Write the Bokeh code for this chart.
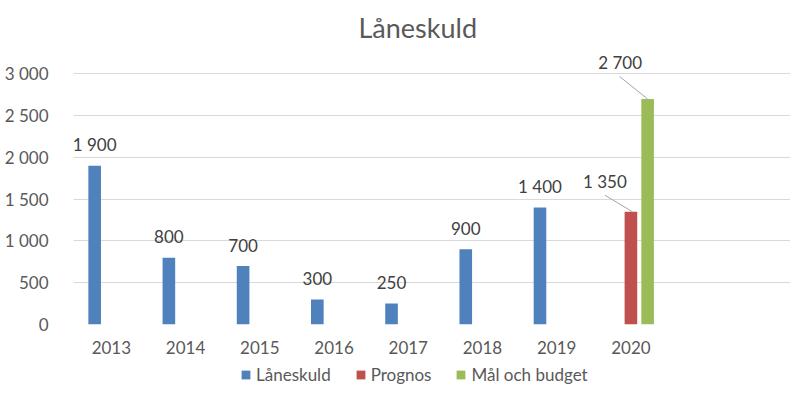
from bokeh.plotting import figure
from bokeh.layouts import column
from bokeh.models import Range1d, FixedTicker, Legend, LegendItem, ColumnDataSource
from bokeh.core.properties import value
from bokeh.embed import file_html
from bokeh.resources import INLINE

# ---- data ----
years = ["2013", "2014", "2015", "2016", "2017", "2018", "2019", "2020"]
laneskuld = [1900, 800, 700, 300, 250, 900, 1400, None]
prognos = [None, None, None, None, None, None, None, 1350]
mal_budget = [None, None, None, None, None, None, None, 2700]
series_names = ["Låneskuld", "Prognos", "Mål och budget"]
y_ticks = [0, 500, 1000, 1500, 2000, 2500, 3000]
y_tick_labels = ["0", "500", "1 000", "1 500", "2 000", "2 500", "3 000"]

# ---- styles ----
colors = ["#4F81BD", "#C0504D", "#9BBB59"]
offsets = [-0.225, 0.0, 0.225]
bar_w = 0.17
FONT = "Lato"
W, H1, H2 = 790, 361, 24
BL, BT, BB = 73, 50, 37
XR = (-0.51, 9.15)
YR = (0, 3280)

p = figure(width=W, height=H1, output_backend="svg", toolbar_location=None,
           x_range=Range1d(*XR), y_range=Range1d(*YR),
           min_border_left=BL, min_border_right=0, min_border_top=BT,
           min_border_bottom=BB, outline_line_color=None)

px_per_x = (W - BL) / (XR[1] - XR[0])
frame_h = H1 - BT - BB
px_per_y = frame_h / (YR[1] - YR[0])

def fmt(v):
    return f"{v:,}".replace(",", " ")

all_series = [laneskuld, prognos, mal_budget]
for s, vals in enumerate(all_series):
    xs = [i + offsets[s] for i, v in enumerate(vals) if v is not None]
    ys = [v for v in vals if v is not None]
    src = ColumnDataSource(dict(x=xs, top=ys))
    p.vbar(x="x", top="top", width=bar_w, source=src, fill_color=colors[s], line_color=None)

# labels for first series: centered above bar
xs0 = [i + offsets[0] for i, v in enumerate(laneskuld) if v is not None]
ys0 = [v for v in laneskuld if v is not None]
p.text(x=xs0, y=ys0, text=[fmt(v) for v in ys0], x_offset=0, y_offset=-21,
       text_align="center", text_baseline="middle", text_font=value(FONT),
       text_font_size="17px", text_color="#404040")

# labels with leader lines for 2020 series (pixel offsets of label, leader start)
lab_style = {1: dict(dx=-26, dy=-30, lx=-26, ly=16.5, ex=1.5),
             2: dict(dx=-27.5, dy=-36, lx=-28, ly=22.4, ex=0)}
for s in (1, 2):
    vals = all_series[s]
    for i, v in enumerate(vals):
        if v is None:
            continue
        st = lab_style[s]
        bx = i + offsets[s]
        p.text(x=[bx], y=[v], text=[fmt(v)], x_offset=st["dx"], y_offset=st["dy"],
               text_align="center", text_baseline="middle", text_font=value(FONT),
               text_font_size="17px", text_color="#404040")
        p.segment(x0=[bx + st["lx"] / px_per_x], y0=[v + st["ly"] / px_per_y],
                  x1=[bx + st["ex"] / px_per_x], y1=[v],
                  line_color="#a6a6a6", line_width=1)

# axes
p.xaxis.ticker = FixedTicker(ticks=list(range(len(years))))
p.xaxis.major_label_overrides = {i: y for i, y in enumerate(years)}
p.yaxis.ticker = FixedTicker(ticks=y_ticks)
p.yaxis.major_label_overrides = {t: l for t, l in zip(y_ticks, y_tick_labels)}
for ax in (p.xaxis, p.yaxis):
    ax.axis_line_color = None
    ax.major_tick_line_color = None
    ax.minor_tick_line_color = None
    ax.major_label_text_font = FONT
    ax.major_label_text_font_size = "17px"
    ax.major_label_text_color = "#595959"
p.yaxis.major_label_standoff = 19
p.xaxis.major_label_standoff = 10
p.xgrid.visible = False
p.ygrid.ticker = FixedTicker(ticks=y_ticks)
p.ygrid.grid_line_color = "#d9d9d9"
p.ygrid.grid_line_width = 1

# title
p.title.text = "Låneskuld"
p.title.align = "left"
p.title.text_font = FONT
p.title.text_font_size = "27px"
p.title.text_font_style = "normal"
p.title.text_color = "#595959"
p.title.offset = 285
p.title.standoff = 14

# legend in a separate strip below the chart (legend swatches only)
lg = figure(width=W, height=H2, output_backend="svg", toolbar_location=None,
            x_range=Range1d(0, 1), y_range=Range1d(0, 1),
            min_border_left=0, min_border_right=0, min_border_top=0, min_border_bottom=0,
            outline_line_color=None, x_axis_type=None, y_axis_type=None)
lg.xgrid.visible = False
lg.ygrid.visible = False
leg_r = [lg.vbar(x=[0.5], top=[0], bottom=[0], width=0.0, fill_color=c, line_color=None)
         for c in colors]
legend = Legend(items=[LegendItem(label=n, renderers=[r]) for n, r in zip(series_names, leg_r)],
                orientation="horizontal", location=(167, 0),
                border_line_color=None, background_fill_alpha=0,
                glyph_width=11, glyph_height=11, label_standoff=5, spacing=24,
                padding=2, margin=0, label_text_font=FONT, label_text_font_size="17px",
                label_text_color="#595959")
lg.add_layout(legend, "center")

layout = column(p, lg, spacing=0)
open("out.html", "w").write(file_html(layout, INLINE))
